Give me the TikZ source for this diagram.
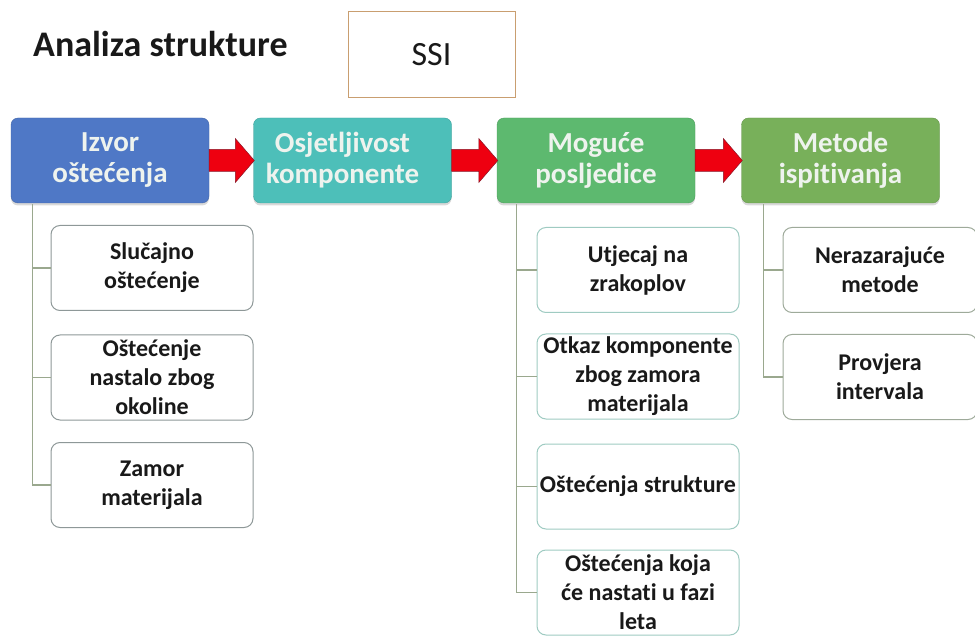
\documentclass[tikz,border=0pt]{standalone}
\usepackage{fontspec}
\setmainfont{Carlito}[RawFeature={-liga;-dlig;-calt}]
\usetikzlibrary{calc,shadows}
\definecolor{cblue}{HTML}{4F78C6}
\definecolor{cteal}{HTML}{4DBFB9}
\definecolor{cgreen}{HTML}{5DB96F}
\definecolor{colive}{HTML}{78B05A}
\definecolor{ctext}{HTML}{EEF3EE}
\definecolor{arrred}{HTML}{EE0010}
\definecolor{arrdark}{HTML}{8A1828}
\definecolor{bgray}{HTML}{8E9898}
\definecolor{bteal}{HTML}{9FCBC2}
\definecolor{bgreen}{HTML}{9EAA9A}
\definecolor{connc}{HTML}{9AA88E}
\definecolor{ssib}{HTML}{C99E70}
\newcommand\redarrow[2]{%
  \filldraw[fill=arrred, draw=arrdark, line width=0.5pt, line join=miter]
    ($(#1.east)+(0,-11)$) -- ($(#2.west)+(-18,-11)$) -- ($(#2.west)+(-18,-22)$)
    -- ($(#2.west)+(1,0)$) -- ($(#2.west)+(-18,22)$) -- ($(#2.west)+(-18,11)$)
    -- ($(#1.east)+(0,11)$) -- cycle;}
\begin{document}
\begin{tikzpicture}[x=1pt,y=-1pt,
  topbox/.style={rounded corners=7pt, minimum width=198pt, minimum height=85pt,
    align=center, text=ctext, inner sep=0pt,
    font=\fontsize{29}{31}\selectfont\bfseries,
    drop shadow={shadow xshift=0pt,shadow yshift=-2.5pt,opacity=0.3}},
  subbox/.style={rounded corners=9pt, minimum width=202pt, minimum height=85pt,
    align=center, fill=white, line width=1pt, inner sep=0pt,
    font=\fontsize{24}{29}\selectfont\bfseries, text=black!90},
  connline/.style={draw=connc, line width=1.2pt}]
\path[use as bounding box] (0,0) rectangle (975,636);
\clip (0,0) rectangle (975,636);

\node[anchor=base west, font=\fontsize{36}{40}\selectfont\bfseries, inner sep=0pt, text=black!90] (title) at (33,57) {Analiza strukture};
\node[draw=ssib, line width=1pt, minimum width=167pt, minimum height=86pt, inner sep=0pt,
  font=\fontsize{34}{40}\selectfont, text=black!90] (ssi) at (431.5,55) {SSI};

% top boxes
\node[topbox, fill=cblue, draw=cblue!85!black] (b1) at (110,160.5) {Izvor\\oštećenja};
\node[topbox, fill=cteal, draw=cteal!85!black] (b2) at (352.5,160.5) {Osjetljivost\hspace*{20pt}\\komponente\hspace*{20pt}};
\node[topbox, fill=cgreen, draw=cgreen!85!black] (b3) at (596,160.5) {Moguće\\posljedice};
\node[topbox, fill=colive, draw=colive!85!black] (b4) at (840.5,160.5) {Metode\\ispit\kern0pt ivanja};

% red arrows
\redarrow{b1}{b2}
\redarrow{b2}{b3}
\redarrow{b3}{b4}

% sub boxes column 1
\node[subbox, draw=bgray] (s11) at (152,268) {Slučajno\\oštećenje};
\node[subbox, draw=bgray] (s12) at (152,377.5) {Oštećenje\\nastalo zbog\\okoline};
\node[subbox, draw=bgray] (s13) at (152,485) {Zamor\\materijala};

% sub boxes column 3
\node[subbox, draw=bteal] (s31) at (638,270) {Utjecaj na\\zrakoplov};
\node[subbox, draw=bteal] (s32) at (638,376.5) {Otkaz komponente\\zbog zamora\\materijala};
\node[subbox, draw=bteal] (s33) at (638,486.5) {Oštećenja strukture};
\node[subbox, draw=bteal] (s34) at (638,592.5) {Oštećenja koja\\će nastat\kern0pt i u fazi\\leta};

% sub boxes column 4
\node[subbox, draw=bgreen, minimum width=194pt] (s41) at (880,270) {Nerazarajuće\\metode};
\node[subbox, draw=bgreen, minimum width=194pt] (s42) at (880,377) {Provjera\\intervala};

% connectors
\coordinate (c1) at ($(b1.south west)+(22,1)$);
\draw[connline] (c1) |- (s13.west);
\draw[connline] (c1 |- s11.west) -- (s11.west);
\draw[connline] (c1 |- s12.west) -- (s12.west);

\coordinate (c3) at ($(b3.south west)+(20,1)$);
\draw[connline] (c3) |- (s34.west);
\draw[connline] (c3 |- s31.west) -- (s31.west);
\draw[connline] (c3 |- s32.west) -- (s32.west);
\draw[connline] (c3 |- s33.west) -- (s33.west);

\coordinate (c4) at ($(b4.south west)+(22,1)$);
\draw[connline] (c4) |- (s42.west);
\draw[connline] (c4 |- s41.west) -- (s41.west);
\end{tikzpicture}
\end{document}
